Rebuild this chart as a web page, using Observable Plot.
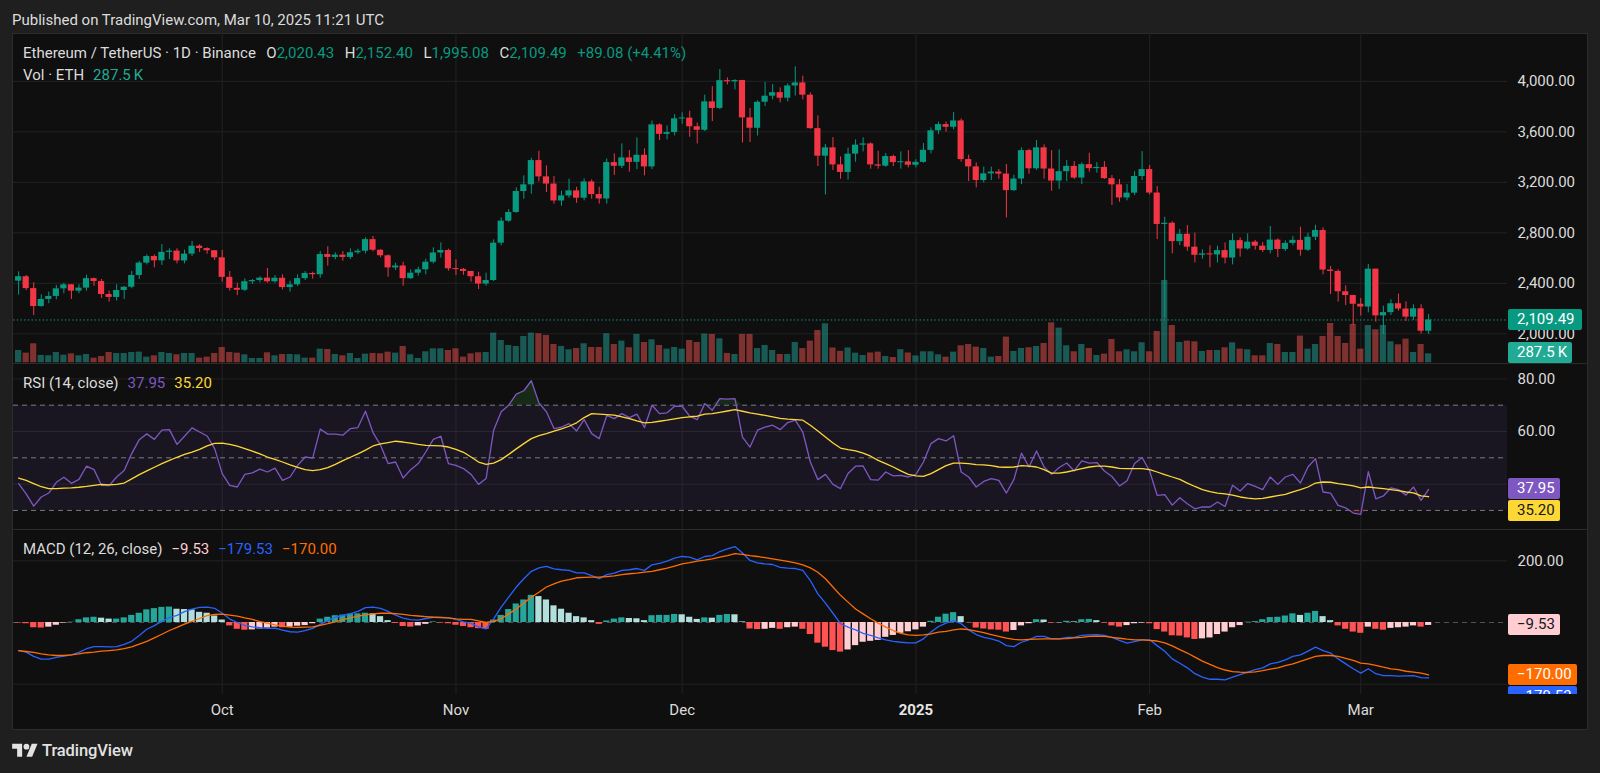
<!DOCTYPE html>
<html>
<head>
<meta charset="utf-8">
<script src="https://cdn.jsdelivr.net/npm/d3@7"></script>
<script src="https://cdn.jsdelivr.net/npm/@observablehq/plot@0.6"></script>
<style>
html,body{margin:0;padding:0;background:#1f1f1f;}
#root{position:relative;width:1600px;height:773px;background:#1f1f1f;overflow:hidden;font-family:Roboto,"Noto Sans",sans-serif;font-size:15px;color:#dcdcdc;}
.a{position:absolute;white-space:nowrap;}
#frame{left:12px;top:33px;width:1576px;height:697px;background:#0f0f0f;border:1px solid #2c2c2c;box-sizing:border-box;}
.sep{left:13px;width:1574px;height:1px;background:#2b2b2b;}
.lg{line-height:20px;}
.lg span{margin-right:9px;}
.lg.wide span{margin-right:10.5px;}
.lg span.t{margin-right:0;}
.box{position:absolute;left:0;height:21px;line-height:21px;padding-left:9px;box-sizing:border-box;border-radius:2px;font-size:15px;white-space:nowrap;}
.clip{position:absolute;left:1508px;width:80px;overflow:hidden;}
</style>
</head>
<body>
<div id="root">
  <div class="a" id="frame"></div>
  <div class="a lg" style="left:12px;top:10px;color:#dcdcdc;">Published on TradingView.com, Mar 10, 2025 11:21 UTC</div>
</div>
<script>
// ---------------- DATA (daily, 2024-09-04 .. 2025-03-10) ----------------
const firstDay = [2024, 8, 4];
const lastDayExclusive = [2025, 2, 11];

const open = [
2417,2452,2358,2216,2272,2296,2356,2388,2338,2362,2437,2414,2311,2288,2343,2369,2462,2560,2612,2578,2645,2655,2577,2631,2694,2675,2658,
2602,2447,2360,2345,2412,2422,2441,2412,2440,2366,2388,2437,2478,2468,2628,2605,2623,2605,2642,2654,2746,2662,2618,2522,2537,2437,2480,2507,2567,2640,2660,
2515,2510,2494,2452,2394,2422,2718,2892,2961,3127,3180,3372,3243,3186,3052,3092,3132,3074,3203,3103,3068,3356,3327,3393,3358,3414,3322,3655,3580,3594,
3703,3708,3640,3612,3837,3785,4005,3996,4006,3710,3628,3834,3882,3910,3866,3963,3987,3890,3625,3407,3473,3338,3278,3423,3494,3504,3338,3328,3404,3356,3362,
3335,3358,3453,3608,3657,3636,3686,3380,3322,3214,3267,3281,3265,3134,3226,3451,3307,3473,3305,3210,3284,3326,3234,3340,3308,3318,3229,3180,3076,3114,3246,
3301,3115,2866,2876,2730,2788,2686,2622,2633,2625,2659,2600,2738,2672,2726,2694,2660,2742,2668,2716,2740,2662,2765,2818,2505,2494,2333,2303,
2234,2212,2512,2142,2168,2238,2196,2132,2198,2020.43];
const high = [
2491,2462,2404,2309,2330,2383,2401,2390,2388,2464,2441,2430,2338,2388,2375,2494,2573,2625,2625,2707,2673,2673,2662,2731,2705,2681,2660,
2660,2493,2401,2435,2430,2451,2517,2462,2467,2417,2467,2493,2488,2652,2689,2641,2652,2673,2670,2760,2771,2665,2625,2559,2567,2507,2528,2591,2681,2720,2670,
2586,2517,2494,2488,2480,2744,2918,2984,3156,3251,3391,3446,3330,3246,3129,3225,3161,3227,3219,3161,3385,3425,3504,3451,3552,3465,3686,3663,3647,3736,
3750,3763,3670,3890,3958,4093,4027,4013,4008,3784,3845,3990,3974,3948,3979,4114,4040,3908,3726,3499,3554,3401,3470,3536,3552,3512,3446,3428,3415,3441,3451,
3378,3507,3631,3676,3678,3752,3702,3415,3354,3320,3320,3301,3341,3256,3473,3462,3531,3496,3451,3457,3372,3364,3354,3430,3356,3364,3254,3222,3182,3285,3444,
3333,3166,2923,2887,2826,2858,2797,2665,2697,2694,2720,2792,2760,2792,2739,2723,2850,2752,2736,2771,2844,2797,2860,2839,2533,2507,2380,2306,
2280,2549,2512,2219,2269,2314,2253,2230,2230,2152.40];
const low = [
2306,2343,2145,2211,2238,2269,2317,2272,2317,2338,2375,2280,2251,2259,2272,2356,2430,2546,2522,2541,2588,2554,2554,2612,2644,2631,2581,
2409,2338,2303,2335,2391,2404,2401,2401,2348,2330,2375,2422,2433,2441,2536,2586,2575,2589,2628,2633,2649,2602,2449,2501,2377,2430,2457,2467,2554,2599,2496,
2462,2464,2409,2351,2377,2414,2697,2881,2955,3066,3106,3203,3119,3027,3011,3074,3034,3053,3066,3027,3027,3254,3309,3280,3301,3251,3301,3531,3536,3568,
3660,3557,3504,3602,3681,3776,3971,3932,3512,3515,3567,3800,3853,3829,3837,3883,3853,3620,3325,3100,3293,3224,3217,3359,3441,3304,3304,3319,3325,3304,3314,
3314,3351,3425,3578,3597,3615,3359,3206,3156,3195,3214,3224,2918,3127,3182,3264,3293,3224,3129,3143,3206,3222,3182,3280,3272,3222,3016,3042,3053,3095,3214,
3100,2747,2125,2633,2699,2654,2562,2591,2523,2562,2554,2546,2607,2662,2662,2644,2633,2604,2652,2697,2615,2652,2739,2467,2311,2251,2224,2066,
2140,2166,2092,1995,2145,2179,2098,2106,1998,1995.08];
const close = [
2452,2358,2216,2272,2296,2356,2388,2338,2362,2437,2414,2311,2288,2343,2369,2462,2560,2612,2578,2645,2655,2577,2631,2694,2675,2658,2602,
2447,2360,2345,2412,2422,2441,2412,2440,2366,2388,2437,2478,2468,2628,2605,2623,2605,2642,2654,2746,2662,2618,2522,2537,2437,2480,2507,2567,2640,2660,2515,
2510,2494,2452,2394,2422,2718,2892,2961,3127,3180,3372,3243,3186,3052,3092,3132,3074,3203,3103,3068,3356,3327,3393,3358,3414,3322,3655,3580,3594,3703,
3708,3640,3612,3837,3785,4005,3996,4006,3710,3628,3834,3882,3910,3866,3963,3987,3890,3625,3407,3473,3338,3278,3423,3494,3504,3338,3328,3404,3356,3362,3335,
3358,3453,3608,3657,3636,3686,3380,3322,3214,3267,3281,3265,3134,3226,3451,3307,3473,3305,3210,3284,3326,3234,3340,3308,3318,3229,3180,3076,3114,3246,3301,
3115,2866,2876,2730,2788,2686,2622,2633,2625,2659,2600,2738,2672,2726,2694,2660,2742,2668,2716,2740,2662,2765,2818,2505,2494,2333,2303,2234,
2212,2512,2142,2168,2238,2196,2132,2198,2020.43,2109.49];
// volume in thousands of ETH
const volume = [
395,309,608,235,224,331,245,288,224,267,149,203,331,299,299,331,341,181,224,331,299,256,299,299,149,181,299,
491,331,309,256,139,139,320,224,267,267,256,149,149,437,427,267,224,299,139,277,299,288,341,309,523,256,139,352,448,448,395,
448,181,288,320,331,950,715,555,523,843,950,928,875,587,523,416,459,608,491,491,928,587,694,480,907,651,736,555,437,491,
437,715,651,920,907,768,300,267,907,907,455,555,395,267,267,651,455,694,1035,1248,475,368,475,309,235,315,341,203,170,420,315,
220,352,352,256,181,341,544,587,501,459,181,203,822,363,459,480,523,619,1280,1110,544,352,587,459,235,277,747,352,416,352,640,
352,1003,2635,1195,651,694,672,363,395,395,480,640,437,416,224,224,619,587,331,331,854,437,587,843,1259,843,619,1227,
437,1195,1056,1195,672,576,757,331,587,287.5];
const rsi = [
40.2,36.3,31.6,35.1,36.6,40.7,42.6,40.3,41.8,46.8,45.5,39.5,39.4,42.7,45.2,51.6,56.9,59.1,57.0,60.5,60.7,55.1,58.2,61.4,59.8,58.3,53.5,
44.0,39.5,38.9,43.7,44.3,45.7,44.6,46.1,41.4,42.7,47.1,50.3,49.9,60.9,59.0,59.0,58.6,61.1,61.5,67.7,59.6,54.8,47.8,48.4,42.3,45.5,47.8,52.2,57.0,58.2,47.8,
47.1,45.9,43.7,39.9,42.1,60.5,67.5,70.0,74.2,75.5,79.3,70.9,67.5,61.1,61.7,63.0,60.2,64.5,59.2,57.3,66.1,64.9,66.8,65.3,66.6,61.5,70.0,66.8,67.1,69.6,
69.6,65.8,64.5,70.6,68.1,72.5,72.3,72.5,57.9,54.1,60.5,61.7,62.4,60.7,63.4,64.3,59.8,48.4,41.7,43.7,39.9,38.3,44.0,46.8,46.9,41.7,41.5,44.6,43.1,43.3,42.7,
43.7,48.4,55.4,57.3,56.4,58.4,44.6,42.7,38.9,41.0,42.1,41.4,36.6,41.8,51.8,46.5,52.6,46.5,43.7,46.3,48.0,45.0,48.8,48.0,48.2,45.0,42.9,39.3,41.3,47.8,50.1,
45.0,35.7,36.0,32.0,34.8,32.5,30.6,31.3,31.3,33.2,31.5,39.6,37.4,40.2,39.1,37.9,42.7,39.9,42.7,43.7,40.4,46.5,49.7,37.0,36.6,31.9,31.0,29.0,
28.5,44.7,34.4,35.5,38.6,37.9,35.8,38.9,33.8,37.95];
const rsiMa = [
42.3,41.4,40.2,39.0,38.3,38.3,38.5,38.6,38.8,39.1,39.5,39.9,39.7,39.9,40.4,42.0,43.6,45.0,46.4,47.8,49.0,50.2,51.3,52.2,53.2,54.5,55.5,
55.6,55.1,54.4,53.5,52.5,51.5,50.3,49.4,48.4,47.3,46.4,45.5,45.1,45.5,46.3,47.5,48.9,50.2,51.5,52.9,54.5,55.3,55.8,56.3,56.0,55.6,55.1,54.7,54.6,54.5,54.1,
53.2,52.1,50.3,48.4,47.5,48.0,49.3,51.3,53.4,55.4,57.3,58.4,59.2,60.1,61.0,62.0,63.3,65.3,66.8,66.6,66.4,66.2,65.6,64.9,64.0,63.3,63.5,63.9,64.3,64.8,
65.3,65.6,65.8,66.6,66.8,67.3,67.8,68.3,67.7,67.1,66.6,66.1,65.6,65.0,64.7,64.5,64.3,62.4,60.2,57.9,55.6,53.7,53.1,52.6,51.8,50.6,49.0,47.8,46.5,45.0,43.7,
43.1,42.9,44.0,45.5,47.0,48.0,48.0,47.8,47.4,47.3,47.0,46.5,46.4,46.5,47.0,46.8,46.5,45.5,44.2,44.2,44.6,45.2,45.9,46.5,46.8,46.8,46.5,46.0,45.9,45.9,45.9,
45.5,44.6,43.6,42.7,41.8,40.4,39.1,37.9,37.1,36.6,36.3,35.8,35.1,34.7,34.4,34.6,35.1,35.6,36.1,37.0,37.9,38.9,40.4,40.8,40.7,40.2,39.8,39.3,
38.6,38.9,38.6,38.3,37.9,37.5,37.0,36.7,35.5,35.20];
const macd = [
-91,-96,-110,-119,-119,-113,-109,-105,-97,-85,-78,-78,-79,-78,-71,-61,-42,-22,-10,4,16,23,35,43,49,50,46,
30,11,0,-9,-14,-17,-19,-18,-25,-30,-31,-26,-19,-6,6,17,23,29,36,48,50,46,36,24,14,9,8,13,17,17,15,
10,2,-3,-14,-21,12,50,82,115,142,166,177,182,174,171,169,161,161,152,142,155,160,169,171,175,169,187,192,199,209,
214,212,203,214,217,230,239,246,225,201,193,190,188,179,176,175,169,136,93,63,30,-4,-15,-24,-35,-42,-50,-56,-61,-64,-66,
-66,-53,-31,-13,-2,6,-4,-24,-39,-48,-53,-60,-75,-78,-64,-56,-45,-45,-53,-53,-48,-48,-42,-40,-39,-42,-48,-58,-67,-62,-56,
-56,-75,-93,-118,-132,-147,-166,-177,-184,-184,-186,-177,-169,-161,-153,-147,-134,-129,-121,-110,-105,-93,-80,-91,-99,-118,-134,-150,
-164,-150,-166,-172,-172,-174,-173,-172,-179,-179.53];
const signal = [
-91,-94,-97,-102,-105,-107,-107,-105,-102,-98,-96,-93,-91,-89,-85,-79,-70,-61,-50,-38,-26,-16,-5,4,13,22,26,
27,24,21,15,10,3,-2,-8,-12,-15,-16,-15,-14,-9,-4,2,9,15,21,25,28,30,30,29,26,23,21,19,17,16,15,
12,10,10,5,0,4,12,28,44,63,82,98,115,125,134,139,145,146,147,147,149,151,155,158,160,163,166,171,176,183,
190,194,199,202,206,212,217,223,221,217,214,210,206,202,198,193,187,177,163,142,115,88,66,44,28,12,-2,-15,-26,-35,-40,
-42,-40,-37,-31,-29,-24,-21,-23,-28,-33,-39,-45,-51,-55,-56,-55,-54,-53,-53,-53,-52,-50,-48,-45,-44,-45,-48,-51,-54,-56,-56,
-58,-60,-66,-76,-88,-99,-112,-125,-136,-146,-154,-159,-161,-162,-160,-156,-151,-147,-140,-134,-126,-118,-110,-107,-107,-110,-116,-123,
-132,-134,-139,-145,-150,-153,-158,-161,-164,-170.00];
const hist = [
-2,-4,-17,-18,-15,-9,-2,1,9,15,17,14,11,11,15,23,30,41,45,49,50,43,42,41,33,30,21,
8,-11,-22,-25,-24,-21,-18,-15,-17,-15,-12,-10,-4,11,17,22,24,27,28,30,28,19,6,-3,-13,-15,-11,-6,2,-2,-4,
-9,-13,-17,-20,-22,8,23,42,60,73,88,84,73,54,43,30,19,15,6,-6,5,11,15,13,12,6,22,23,23,26,
25,17,10,15,14,23,26,25,2,-21,-23,-22,-19,-22,-17,-15,-22,-39,-67,-80,-91,-96,-89,-75,-64,-61,-58,-48,-42,-35,-30,
-24,-15,4,17,27,32,19,-1,-18,-21,-24,-25,-31,-26,-11,-4,9,8,-2,-1,4,2,9,10,6,-2,-11,-15,-10,-4,-2,
-4,-23,-31,-43,-44,-50,-55,-53,-50,-39,-31,-17,-10,1,3,9,16,17,21,28,23,30,36,19,6,-11,-22,-31,
-35,-15,-22,-25,-19,-17,-15,-11,-15,-9.53];

// axis ticks / labels
const priceTicks = [2000, 2400, 2800, 3200, 3600, 4000];
const rsiTicks = [80, 60];
const rsiGrid = [40, 60, 80];
const rsiLevels = [70, 50, 30];
const macdTicks = [200];
const macdGrid = [200, -200];
const monthTickDates = ["2024-10-01", "2024-11-01", "2024-12-01", "2025-01-01", "2025-02-01", "2025-03-01"];
const monthTickLabels = ["Oct", "Nov", "Dec", "2025", "Feb", "Mar"];
const monthTickBold = [false, false, false, true, false, false];

// last values
const lastPrice = 2109.49, lastVol = 287.5;
const lastRsi = 37.95, lastRsiMa = 35.20;
const lastHist = -9.53, lastMacd = -179.53, lastSignal = -170.00;

// ---------------- BUILD ----------------
const DAY = 864e5;
const FS = 15;
const dates = d3.utcDays(new Date(Date.UTC(...firstDay)), new Date(Date.UTC(...lastDayExclusive)));
const rows = dates.map((date, i) => ({
  date, open: open[i], high: high[i], low: low[i], close: close[i], vol: volume[i],
  rsi: rsi[i], rsiMa: rsiMa[i], macd: macd[i], signal: signal[i], hist: hist[i]
}));
const UP = "#089981", DN = "#f23645";
rows.forEach((r, i) => {
  r.up = r.close >= r.open;
  const p = i ? hist[i - 1] : 0;
  r.hc = r.hist >= 0 ? (r.hist >= p ? "#26a69a" : "#b2dfdb") : (r.hist < p ? "#ff5252" : "#ffcdd2");
  const lo = Math.min(r.open, r.close), hi = Math.max(r.open, r.close);
  if (hi - lo < 8) { const m = (hi + lo) / 2; r.bLo = m - 4; r.bHi = m + 4; } else { r.bLo = lo; r.bHi = hi; }
});
const months = monthTickDates.map((d, i) => ({date: new Date(d + "T00:00:00Z"), label: monthTickLabels[i], bold: monthTickBold[i]}));

const oct1 = Date.UTC(2024, 9, 1);
const xDomain = [new Date(oct1 - 27.68 * DAY), new Date(oct1 + 170.46 * DAY)];
const W = 1574, MR = 80;
const GRID = "#222222";
const FONT = "Roboto, 'Noto Sans', sans-serif";
const base = {
  width: W, marginLeft: 0, marginRight: MR, marginTop: 0,
  style: {background: "transparent", color: "#dcdcdc", fontFamily: FONT, fontSize: FS + "px", overflow: "visible"}
};
const xs = {type: "utc", domain: xDomain, axis: null};
const x1 = d => new Date(+d.date - 0.41 * DAY);
const x2 = d => new Date(+d.date + 0.41 * DAY);
const root = document.getElementById("root");
function place(el, top) {
  el.style.position = "absolute"; el.style.left = "13px"; el.style.top = top + "px";
  root.appendChild(el); return el;
}

// price pane: grid layer
const priceY = {domain: [1764.75, 4378.6], range: [330, 0], axis: null};
const gridPlot = Plot.plot({...base, height: 330, marginBottom: 0, x: xs, y: priceY,
  marks: [
    Plot.ruleY(priceTicks, {stroke: GRID}),
    Plot.ruleX(months, {x: "date", stroke: GRID}),
    Plot.axisY(priceTicks, {anchor: "right", tickSize: 0, tickPadding: 10, tickFormat: d3.format(",.2f"), fill: "#dcdcdc", fontSize: FS})
  ]});
place(gridPlot, 33);

// volume layer
const volPlot = Plot.plot({...base, height: 330, marginBottom: 0, x: xs,
  y: {domain: [0, 329.3 * 32], range: [329.3, 0], axis: null},
  color: {type: "identity"},
  marks: [
    Plot.rect(rows, {x1, x2, y1: 0, y2: "vol", fill: d => d.up ? "#26a69a" : "#ef5350", fillOpacity: 0.5})
  ]});
place(volPlot, 33);

// candles layer
const pricePlot = Plot.plot({...base, height: 330, marginBottom: 0, x: xs, y: priceY,
  color: {type: "identity"},
  marks: [
    Plot.ruleY([lastPrice], {stroke: UP, strokeDasharray: "1.5,2.2"}),
    Plot.ruleX(rows, {x: "date", y1: "low", y2: "high", stroke: d => d.up ? UP : DN, strokeWidth: 1}),
    Plot.rect(rows, {x1, x2, y1: "bLo", y2: "bHi", fill: d => d.up ? UP : DN})
  ]});
place(pricePlot, 33);

// RSI pane
const rsiPlot = Plot.plot({...base, height: 166, marginBottom: 0, x: xs,
  y: {domain: [30, 70], range: [146.9, 41.7], axis: null},
  color: {type: "identity"},
  marks: [
    Plot.ruleY(rsiGrid, {stroke: GRID}),
    Plot.ruleX(months, {x: "date", stroke: GRID}),
    Plot.rect([{a: xDomain[0], b: xDomain[1]}], {x1: "a", x2: "b", y1: 30, y2: 70, fill: "#7e57c2", fillOpacity: 0.1}),
    Plot.ruleY(rsiLevels, {stroke: "#787b86", strokeDasharray: "5,4"}),
    Plot.areaY(rows, {x: "date", y1: 70, y2: d => Math.max(70, d.rsi), fill: "#2e7d32", fillOpacity: 0.25}),
    Plot.areaY(rows, {x: "date", y1: 30, y2: d => Math.min(30, d.rsi), fill: "#c62828", fillOpacity: 0.25}),
    Plot.line(rows, {x: "date", y: "rsi", stroke: "#7e57c2", strokeWidth: 1.3}),
    Plot.line(rows, {x: "date", y: "rsiMa", stroke: "#fdd835", strokeWidth: 1.3}),
    Plot.axisY(rsiTicks, {anchor: "right", tickSize: 0, tickPadding: 10, tickFormat: d3.format(".2f"), fill: "#dcdcdc", fontSize: FS})
  ]});
place(rsiPlot, 363);

// MACD pane + time axis
const fmtM = v => d3.format(".2f")(v).replace("-", "\u2212");
const macdPlot = Plot.plot({...base, height: 200, marginBottom: 35, x: xs,
  y: {domain: [-200, 200], range: [154.7, 31.3], axis: null},
  color: {type: "identity"},
  marks: [
    Plot.ruleY(macdGrid, {stroke: GRID}),
    Plot.ruleX(months, {x: "date", stroke: GRID}),
    Plot.ruleY([0], {stroke: "#787b86", strokeOpacity: 0.6, strokeDasharray: "5,4"}),
    Plot.rect(rows, {x1, x2, y1: 0, y2: "hist", fill: "hc"}),
    Plot.line(rows, {x: "date", y: "macd", stroke: "#2962ff", strokeWidth: 1.3}),
    Plot.line(rows, {x: "date", y: "signal", stroke: "#ff6d00", strokeWidth: 1.3}),
    Plot.axisY(macdTicks, {anchor: "right", tickSize: 0, tickPadding: 10, tickFormat: fmtM, fill: "#dcdcdc", fontSize: FS}),
    Plot.text(months.filter(d => !d.bold), {x: "date", text: "label", frameAnchor: "bottom", dy: 20, fill: "#dcdcdc", fontSize: FS}),
    Plot.text(months.filter(d => d.bold), {x: "date", text: "label", frameAnchor: "bottom", dy: 20, fill: "#e6e6e6", fontSize: FS, fontWeight: "bold"})
  ]});
place(macdPlot, 529);

// pane separators
[363, 529].forEach(t => { const s = document.createElement("div"); s.className = "a sep"; s.style.top = t + "px"; root.appendChild(s); });

// legends
function legend(top, html, cls) {
  const d = document.createElement("div"); d.className = "a lg" + (cls ? " " + cls : ""); d.style.left = "23px"; d.style.top = top + "px";
  d.innerHTML = html; root.appendChild(d);
}
const G = "#089981";
legend(43, `<span>Ethereum / TetherUS · 1D · Binance</span><span>O<span class="t" style="color:${G}">2,020.43</span></span><span>H<span class="t" style="color:${G}">2,152.40</span></span><span>L<span class="t" style="color:${G}">1,995.08</span></span><span>C<span class="t" style="color:${G}">2,109.49</span></span><span style="color:${G}">+89.08 (+4.41%)</span>`, "wide");
legend(65, `<span>Vol · ETH</span><span style="color:#22ab94">287.5\u2009K</span>`);
legend(373, `<span>RSI (14, close)</span><span style="color:#7e57c2">37.95</span><span style="color:#fdd835">35.20</span>`);
legend(539, `<span>MACD (12, 26, close)</span><span style="color:#ffcdd2">\u22129.53</span><span style="color:#2962ff">\u2212179.53</span><span style="color:#ff6d00">\u2212170.00</span>`);

// right-axis value boxes
function clipBox(top, height) {
  const c = document.createElement("div"); c.className = "clip"; c.style.top = top + "px"; c.style.height = height + "px";
  root.appendChild(c); return c;
}
function box(container, centerTop, text, bg, fg, w) {
  const b = document.createElement("div"); b.className = "box";
  b.style.top = centerTop + "px"; b.style.width = w + "px"; b.style.background = bg; b.style.color = fg;
  b.textContent = text; container.appendChild(b); return b;
}
const H = 21;
const pc = clipBox(33, 330);
box(pc, pricePlot.scale("y").apply(lastPrice) - H / 2, d3.format(",.2f")(lastPrice), "#089981", "#ffffff", 74);
box(pc, Math.min(volPlot.scale("y").apply(lastVol) - H / 2, 330 - H), "287.5\u2009K", "#22ab94", "#ffffff", 64);

const rc = clipBox(363, 166);
let t1 = rsiPlot.scale("y").apply(lastRsi) - H / 2;
let t2 = rsiPlot.scale("y").apply(lastRsiMa) - H / 2;
if (t2 < t1 + H + 1) t2 = t1 + H + 1;
box(rc, t1, lastRsi.toFixed(2), "#7e57c2", "#ffffff", 52);
box(rc, t2, lastRsiMa.toFixed(2), "#fdd835", "#131722", 52);

const mc = clipBox(529, 165);
box(mc, macdPlot.scale("y").apply(lastHist) - H / 2, fmtM(lastHist), "#ffcdd2", "#131722", 52);
let s1 = macdPlot.scale("y").apply(lastSignal) - H / 2;
let s2 = macdPlot.scale("y").apply(lastMacd) - H / 2;
if (s2 < s1 + H + 1) s2 = s1 + H + 1;
box(mc, s1, fmtM(lastSignal), "#ff6d00", "#ffffff", 69);
box(mc, s2, fmtM(lastMacd), "#2962ff", "#ffffff", 69);

// footer brand
const brand = document.createElement("div");
brand.className = "a";
brand.style.left = "12px"; brand.style.top = "741px"; brand.style.lineHeight = "20px";
brand.innerHTML = `<svg width="26" height="20" viewBox="0 0 36 28" style="vertical-align:top"><path d="M14 22H7V11H0V4h14v18z" fill="#e3e3e3"/><circle cx="20" cy="8" r="4" fill="#e3e3e3"/><path d="M28 22h-8l7.5-18h8L28 22z" fill="#e3e3e3"/></svg><span style="font-size:16.5px;font-weight:500;color:#e3e3e3;margin-left:4px;letter-spacing:-0.1px">TradingView</span>`;
root.appendChild(brand);
</script>
</body>
</html>
